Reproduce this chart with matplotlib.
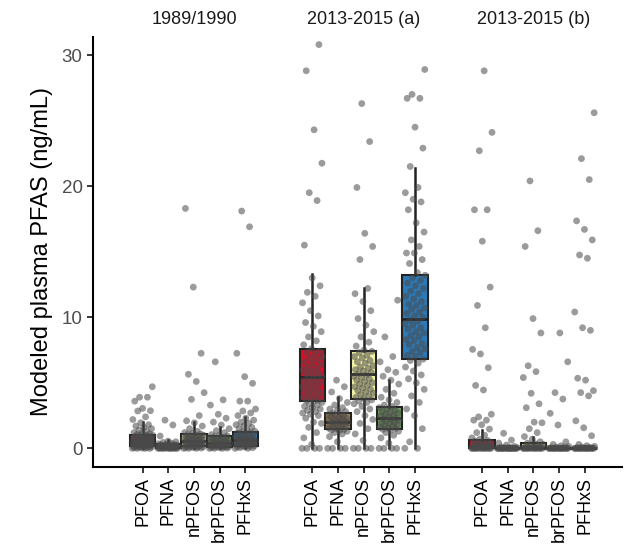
import numpy as np
import matplotlib
matplotlib.use("Agg")
import matplotlib.pyplot as plt

plt.rcParams['font.family'] = ['Liberation Sans', 'DejaVu Sans']

# Categorias e grupos
compounds = ["PFOA", "PFNA", "nPFOS", "brPFOS", "PFHxS"]
groups = ["1989/1990", "2013-2015 (a)", "2013-2015 (b)"]
box_colors = ["#de0c26", "#b98a52", "#f6f5a6", "#72a262", "#2b7bbb"]

# Estatisticas das caixas: [grupo][composto]
q1 = [[0.15, 0.0, 0.15, 0.1, 0.2],
      [3.6, 1.45, 3.74, 1.47, 6.8],
      [0.0, 0.0, 0.0, 0.0, 0.0]]
med = [[0.5, 0.1, 0.55, 0.4, 0.6],
       [5.45, 2.03, 5.65, 2.29, 9.9],
       [0.1, 0.0, 0.05, 0.0, 0.0]]
q3 = [[1.0, 0.3, 1.1, 0.95, 1.25],
      [7.55, 2.67, 7.45, 3.13, 13.2],
      [0.62, 0.05, 0.42, 0.05, 0.05]]
whis_hi = [[2.0, 0.6, 2.0, 1.6, 2.4],
           [13.3, 3.95, 12.2, 5.2, 21.4],
           [1.4, 0.1, 0.9, 0.1, 0.1]]

# Pontos individuais
pts_1989_PFOA = [0, 0, 0, 0, 0.02, 0.05, 0.05, 0.08, 0.1, 0.1, 0.12, 0.15, 0.15, 0.18, 0.2,
                 0.2, 0.22, 0.25, 0.25, 0.28, 0.3, 0.3, 0.32, 0.35, 0.35, 0.38, 0.4, 0.4, 0.42,
                 0.45, 0.45, 0.48, 0.5, 0.5, 0.52, 0.55, 0.55, 0.58, 0.6, 0.6, 0.62, 0.65, 0.68,
                 0.7, 0.72, 0.75, 0.78, 0.8, 0.82, 0.85, 0.88, 0.9, 0.92, 0.95, 0.98, 1.0, 1.02,
                 1.05, 1.1, 1.15, 1.2, 1.3, 1.4, 1.5, 1.6, 1.7, 1.8, 1.95, 2.2, 2.4, 2.85, 2.87,
                 3.05, 3.6, 3.9, 3.9, 4.7]
pts_1989_PFNA = [0, 0, 0, 0, 0, 0, 0, 0, 0, 0, 0.02, 0.02, 0.05, 0.05, 0.05, 0.08, 0.08, 0.1,
                 0.1, 0.1, 0.12, 0.12, 0.15, 0.15, 0.18, 0.18, 0.2, 0.2, 0.22, 0.25, 0.25, 0.28,
                 0.3, 0.3, 0.35, 0.4, 0.45, 0.5, 0.55, 0.94, 1.78, 2.15]
pts_1989_nPFOS = [0, 0, 0, 0.02, 0.05, 0.05, 0.1, 0.1, 0.12, 0.15, 0.15, 0.2, 0.2, 0.22, 0.25,
                  0.25, 0.3, 0.3, 0.32, 0.35, 0.38, 0.4, 0.4, 0.45, 0.45, 0.5, 0.5, 0.55, 0.55,
                  0.6, 0.6, 0.65, 0.65, 0.7, 0.72, 0.75, 0.8, 0.82, 0.85, 0.9, 0.92, 0.95, 1.0,
                  1.02, 1.05, 1.1, 1.15, 1.2, 1.3, 1.5, 1.7, 1.95, 2.1, 2.5, 3.74, 4.25, 5.1,
                  5.65, 7.25, 12.3, 18.3]
pts_1989_brPFOS = [0, 0, 0, 0.02, 0.05, 0.05, 0.1, 0.1, 0.1, 0.12, 0.15, 0.15, 0.2, 0.2, 0.22,
                   0.25, 0.25, 0.3, 0.3, 0.32, 0.35, 0.38, 0.4, 0.4, 0.45, 0.45, 0.5, 0.5, 0.55,
                   0.6, 0.6, 0.65, 0.7, 0.75, 0.8, 0.85, 0.9, 0.95, 1.0, 1.05, 1.2, 1.35, 1.5,
                   1.78, 2.0, 2.3, 2.6, 3.3, 3.7, 6.6]
pts_1989_PFHxS = [0, 0, 0.05, 0.05, 0.1, 0.12, 0.15, 0.18, 0.2, 0.22, 0.25, 0.28, 0.3, 0.32,
                  0.35, 0.38, 0.4, 0.42, 0.45, 0.48, 0.5, 0.52, 0.55, 0.58, 0.6, 0.62, 0.65,
                  0.68, 0.7, 0.72, 0.75, 0.78, 0.8, 0.85, 0.9, 0.95, 1.0, 1.05, 1.1, 1.15, 1.2,
                  1.25, 1.3, 1.4, 1.5, 1.6, 1.7, 1.8, 1.9, 2.0, 2.15, 2.3, 2.5, 2.7, 2.85, 3.0,
                  3.6, 3.6, 4.96, 5.47, 7.25, 16.9, 18.1]

pts_2013a_PFOA = [0, 0, 0, 0, 0.3, 0.8, 1.2, 1.6, 1.9, 2.0, 2.3, 2.5, 2.6, 2.7, 2.8, 2.9, 3.0,
                  3.1, 3.2, 3.3, 3.4, 3.5, 3.6, 3.65, 3.7, 3.8, 3.9, 4.0, 4.1, 4.2, 4.3, 4.4,
                  4.5, 4.6, 4.7, 4.8, 4.9, 5.0, 5.1, 5.2, 5.3, 5.4, 5.5, 5.6, 5.7, 5.8, 5.9, 6.0,
                  6.1, 6.2, 6.4, 6.5, 6.6, 6.8, 6.9, 7.0, 7.2, 7.3, 7.4, 7.6, 7.9, 8.2, 8.5,
                  8.9, 9.3, 9.6, 10.1, 10.5, 11.1, 11.6, 11.9, 12.4, 13.0, 15.5, 18.9, 19.5,
                  21.75, 24.3, 28.8, 30.8]
pts_2013a_PFNA = [0, 0, 0, 0, 0.5, 0.9, 1.1, 1.2, 1.3, 1.35, 1.4, 1.45, 1.5, 1.55, 1.6, 1.65,
                  1.7, 1.75, 1.8, 1.85, 1.9, 1.95, 2.0, 2.0, 2.05, 2.1, 2.15, 2.2, 2.25, 2.3,
                  2.35, 2.4, 2.45, 2.5, 2.55, 2.6, 2.7, 2.8, 2.9, 3.0, 3.1, 3.3, 3.5, 3.8, 4.3,
                  4.7, 5.2]
pts_2013a_nPFOS = [0, 0, 0, 0, 0.6, 1.1, 1.5, 1.9, 2.2, 2.5, 2.8, 3.0, 3.2, 3.4, 3.5, 3.6, 3.7,
                   3.8, 3.9, 4.0, 4.1, 4.2, 4.3, 4.4, 4.5, 4.6, 4.7, 4.8, 4.9, 5.0, 5.1, 5.2,
                   5.3, 5.4, 5.5, 5.6, 5.7, 5.8, 5.9, 6.0, 6.1, 6.2, 6.3, 6.5, 6.6, 6.7, 6.9,
                   7.0, 7.1, 7.3, 7.4, 7.5, 7.8, 8.1, 8.5, 8.9, 9.4, 9.9, 10.5, 11.2, 11.8, 12.2,
                   14.4, 15.4, 16.4, 19.9, 23.4, 26.3]
pts_2013a_brPFOS = [0, 0, 0, 0, 0.4, 0.8, 1.0, 1.2, 1.3, 1.4, 1.45, 1.5, 1.55, 1.6, 1.7, 1.75,
                    1.8, 1.9, 1.95, 2.0, 2.1, 2.15, 2.2, 2.25, 2.3, 2.4, 2.45, 2.5, 2.6, 2.7,
                    2.75, 2.8, 2.9, 3.0, 3.1, 3.2, 3.3, 3.5, 3.7, 3.9, 4.2, 4.5, 4.9, 5.2, 5.5,
                    5.8, 6.0, 6.6, 7.0, 8.5, 11.3]
pts_2013a_PFHxS = [0, 0, 0.5, 1.5, 2.5, 3.0, 3.5, 4.0, 4.5, 5.0, 5.3, 5.6, 5.9, 6.2, 6.5, 6.7,
                   6.8, 7.0, 7.1, 7.3, 7.4, 7.6, 7.7, 7.9, 8.0, 8.2, 8.3, 8.5, 8.6, 8.8, 8.9,
                   9.1, 9.2, 9.4, 9.5, 9.7, 9.8, 10.0, 10.1, 10.3, 10.4, 10.6, 10.7, 10.9, 11.0,
                   11.2, 11.4, 11.6, 11.8, 12.0, 12.2, 12.4, 12.6, 12.8, 13.0, 13.2, 13.4, 14.1,
                   14.4, 14.9, 14.9, 15.4, 15.9, 16.5, 17.2, 18.2, 18.8, 19.0, 19.5, 19.9, 21.5,
                   22.9, 24.5, 26.7, 26.7, 27.0, 28.9]

pts_2013b_PFOA = [0, 0, 0, 0, 0, 0, 0, 0, 0, 0, 0, 0, 0.02, 0.02, 0.05, 0.05, 0.08, 0.1, 0.1,
                  0.12, 0.15, 0.15, 0.2, 0.2, 0.25, 0.3, 0.3, 0.35, 0.4, 0.45, 0.5, 0.55, 0.6,
                  0.7, 0.8, 1.0, 1.2, 1.47, 1.8, 2.15, 2.15, 2.4, 2.6, 4.45, 4.8, 6.15, 7.2,
                  7.55, 9.2, 10.9, 12.3, 15.8, 18.2, 18.2, 22.7, 24.1, 28.8]
pts_2013b_PFNA = [0, 0, 0, 0, 0, 0, 0, 0, 0, 0, 0, 0, 0, 0, 0, 0, 0, 0, 0.02, 0.02, 0.05,
                  0.05, 0.08, 0.1, 0.15, 0.25, 0.4, 0.63, 1.15]
pts_2013b_nPFOS = [0, 0, 0, 0, 0, 0, 0, 0, 0, 0, 0, 0, 0.02, 0.02, 0.05, 0.05, 0.1, 0.1, 0.15,
                   0.2, 0.25, 0.3, 0.35, 0.4, 0.5, 0.7, 0.9, 1.2, 1.5, 1.95, 2.0, 3.1, 3.4, 4.2,
                   5.4, 5.85, 6.3, 8.8, 9.9, 15.4, 16.6, 20.4]
pts_2013b_brPFOS = [0, 0, 0, 0, 0, 0, 0, 0, 0, 0, 0, 0, 0, 0, 0, 0, 0.02, 0.02, 0.05, 0.08,
                    0.1, 0.15, 0.2, 0.3, 0.5, 1.78, 2.67, 3.76, 4.25, 6.6, 8.8]
pts_2013b_PFHxS = [0, 0, 0, 0, 0, 0, 0, 0, 0, 0, 0, 0, 0, 0, 0, 0, 0.02, 0.02, 0.05, 0.08,
                   0.1, 0.15, 0.2, 0.3, 0.96, 1.57, 2.1, 4.0, 4.25, 4.4, 5.2, 5.35, 9.0, 9.2,
                   10.4, 14.5, 14.75, 15.9, 16.7, 17.35, 20.5, 22.1, 25.6]

points = [[pts_1989_PFOA, pts_1989_PFNA, pts_1989_nPFOS, pts_1989_brPFOS, pts_1989_PFHxS],
          [pts_2013a_PFOA, pts_2013a_PFNA, pts_2013a_nPFOS, pts_2013a_brPFOS, pts_2013a_PFHxS],
          [pts_2013b_PFOA, pts_2013b_PFNA, pts_2013b_nPFOS, pts_2013b_brPFOS, pts_2013b_PFHxS]]

group_gap = 6.6

fig = plt.figure(figsize=(6.24, 5.51), dpi=100)
ax = fig.add_axes([93 / 624, (551 - 466.7) / 551, (622 - 93) / 624, (466.7 - 36.7) / 551])

positions = []
labels = []
for g in range(len(groups)):
    for c in range(len(compounds)):
        pos = g * group_gap + c
        positions.append(pos)
        labels.append(compounds[c])

        stats = [dict(med=med[g][c], q1=q1[g][c], q3=q3[g][c],
                      whislo=0.0, whishi=whis_hi[g][c], fliers=[])]
        ax.bxp(stats, positions=[pos], widths=0.98, patch_artist=True,
               showfliers=False, showcaps=False,
               boxprops=dict(facecolor=box_colors[c], edgecolor="#222222", linewidth=1.5),
               whiskerprops=dict(color="#222222", linewidth=1.8),
               medianprops=dict(color="#222222", linewidth=2.0))

        # jitter deterministico
        vals = np.array(points[g][c], dtype=float)
        k = np.arange(len(vals))
        jitter = ((k * 0.6180339887) % 1.0 - 0.5) * 0.8
        ax.scatter(pos + jitter, vals, s=24, color="#4a4a4a", alpha=0.55,
                   edgecolors="none", zorder=5)

# Titulos dos grupos
for g, name in enumerate(groups):
    ax.text(g * group_gap + 2, 32.75, name, ha="center", va="center",
            fontsize=13, color="#1a1a1a", clip_on=False)

ax.set_xlim(-1.93, 18.65)
ax.set_ylim(-1.4, 31.4)
ax.set_xticks(positions)
ax.set_xticklabels(labels, rotation=90, fontsize=13, color="black")
ax.set_yticks([0, 10, 20, 30])
ax.tick_params(axis="y", labelsize=13.5, labelcolor="#4d4d4d", length=4, width=1.1)
ax.tick_params(axis="x", length=4, width=1.1)
ax.set_ylabel("Modeled plasma PFAS (ng/mL)", fontsize=17, labelpad=6)

for side in ["top", "right"]:
    ax.spines[side].set_visible(False)
for side in ["left", "bottom"]:
    ax.spines[side].set_linewidth(1.5)

fig.savefig("out.png", dpi=100)
